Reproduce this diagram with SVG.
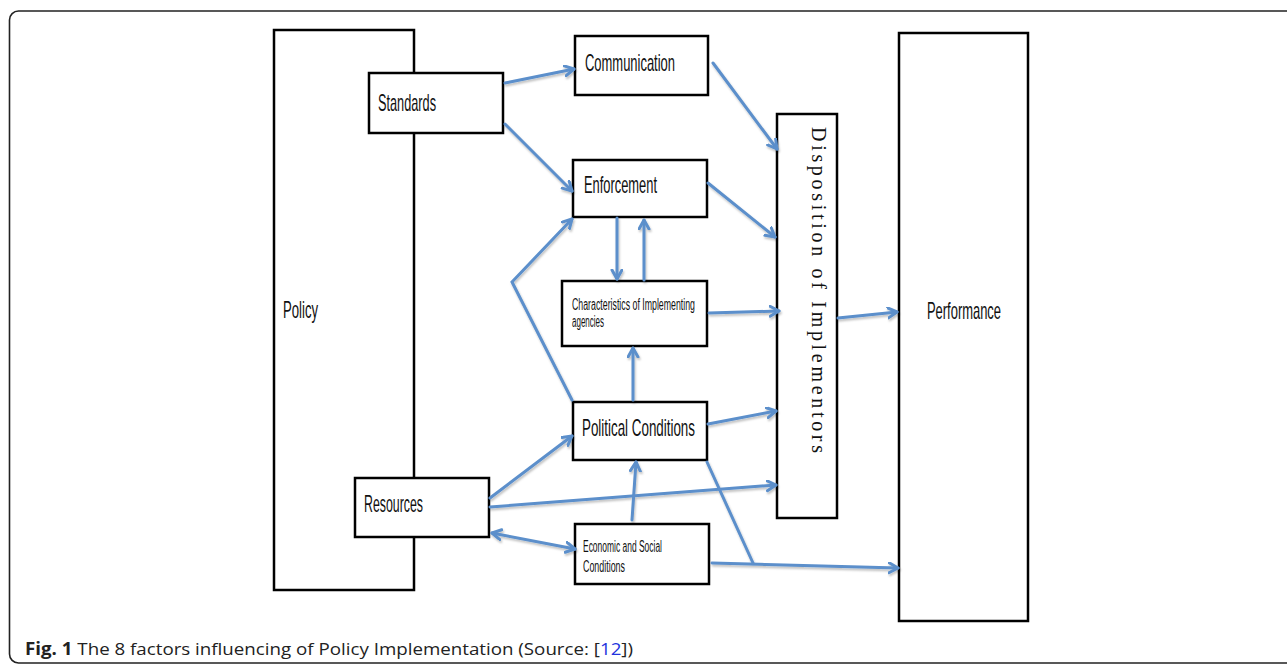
<svg xmlns="http://www.w3.org/2000/svg" width="1287" height="668" viewBox="0 0 1287 668">
<style>
.box{fill:#fff;stroke:#000;stroke-width:2.5}
.lbl{font-family:"Liberation Sans",Arial,sans-serif;font-size:24px;fill:#111}
.sm{font-family:"Liberation Sans",Arial,sans-serif;font-size:16px;fill:#111}
.c{fill:none;stroke:#5b8fcb;stroke-width:3;stroke-linecap:round}
.arr{marker-end:url(#ah)}
.cap{font-family:"Open Sans","Liberation Sans",sans-serif;font-size:17px;fill:#222}
</style>
<defs>
<marker id="ah" markerUnits="userSpaceOnUse" markerWidth="14" markerHeight="14" refX="10" refY="6" orient="auto-start-reverse">
<path d="M1,1 L10,6 L1,11" fill="none" stroke="#5b8fcb" stroke-width="3" stroke-linecap="round" stroke-linejoin="round"/>
</marker>
<filter id="sh" x="-20%" y="-20%" width="140%" height="140%">
<feDropShadow dx="1" dy="2" stdDeviation="1.2" flood-color="#000" flood-opacity="0.25"/>
</filter>
</defs>
<rect x="9.5" y="11" width="1290" height="652" rx="9" fill="#fff" stroke="#222" stroke-width="1.6"/>

<g id="policy"><rect class="box" x="274" y="30" width="140" height="560"/><text class="lbl" x="283" y="318" textLength="35" lengthAdjust="spacingAndGlyphs">Policy</text></g>
<g id="standards"><rect class="box" x="369" y="73" width="134" height="60"/><text class="lbl" x="378" y="111" textLength="58" lengthAdjust="spacingAndGlyphs">Standards</text></g>
<g id="resources"><rect class="box" x="355" y="478" width="134" height="59"/><text class="lbl" x="364" y="512" textLength="59" lengthAdjust="spacingAndGlyphs">Resources</text></g>
<g id="communication"><rect class="box" x="575" y="36" width="133" height="59"/><text class="lbl" x="585" y="71" textLength="90" lengthAdjust="spacingAndGlyphs">Communication</text></g>
<g id="enforcement"><rect class="box" x="573" y="160" width="134" height="57"/><text class="lbl" x="584" y="193" textLength="73" lengthAdjust="spacingAndGlyphs">Enforcement</text></g>
<g id="characteristics"><rect class="box" x="562" y="281" width="145" height="65"/><text class="sm" x="572" y="310" textLength="123" lengthAdjust="spacingAndGlyphs">Characteristics of Implementing</text><text class="sm" x="572" y="327" textLength="32" lengthAdjust="spacingAndGlyphs">agencies</text></g>
<g id="political"><rect class="box" x="573" y="402" width="134" height="58"/><text class="lbl" x="582" y="436" textLength="113" lengthAdjust="spacingAndGlyphs">Political Conditions</text></g>
<g id="economic"><rect class="box" x="575" y="524" width="134" height="60"/><text class="sm" x="583" y="552" textLength="79" lengthAdjust="spacingAndGlyphs">Economic and Social</text><text class="sm" x="583" y="572" textLength="42" lengthAdjust="spacingAndGlyphs">Conditions</text></g>
<g id="disposition"><rect class="box" x="777" y="114" width="60" height="404"/><text transform="translate(812,127) rotate(90)" font-family="Liberation Serif,Times New Roman,serif" font-size="20" fill="#111" textLength="326" lengthAdjust="spacing">Disposition of Implementors</text></g>
<g id="performance"><rect class="box" x="899" y="33" width="129" height="588"/><text class="lbl" x="927" y="319" textLength="74" lengthAdjust="spacingAndGlyphs">Performance</text></g>

<g id="connectors" filter="url(#sh)">
<line class="c arr" x1="505" y1="83" x2="574" y2="69"/>
<line class="c arr" x1="505" y1="124" x2="572" y2="191"/>
<line class="c arr" x1="713" y1="63" x2="777" y2="149"/>
<line class="c arr" x1="708" y1="183" x2="775" y2="237"/>
<line class="c arr" x1="617" y1="218" x2="617" y2="279"/>
<line class="c arr" x1="644" y1="280" x2="644" y2="220"/>
<polyline class="c arr" points="572,400 512,282 572,219"/>
<line class="c arr" x1="709" y1="313" x2="779" y2="311"/>
<line class="c arr" x1="633" y1="400" x2="633" y2="348"/>
<line class="c arr" x1="708" y1="424" x2="776" y2="411"/>
<line class="c arr" x1="490" y1="498" x2="572" y2="436"/>
<line class="c arr" x1="490" y1="507" x2="776" y2="485"/>
<line class="c arr" x1="492" y1="533" x2="575" y2="549" marker-start="url(#ah)"/>
<line class="c arr" x1="632" y1="520" x2="636" y2="462"/>
<line class="c" x1="707" y1="462" x2="753" y2="563"/>
<line class="c arr" x1="712" y1="563" x2="898" y2="568"/>
<line class="c arr" x1="838" y1="318" x2="897" y2="312"/>
</g>

<text class="cap" x="25" y="655" textLength="608" lengthAdjust="spacingAndGlyphs"><tspan font-weight="bold">Fig. 1</tspan> The 8 factors influencing of Policy Implementation (Source: [<tspan fill="#2233dd">12</tspan>])</text>
</svg>
